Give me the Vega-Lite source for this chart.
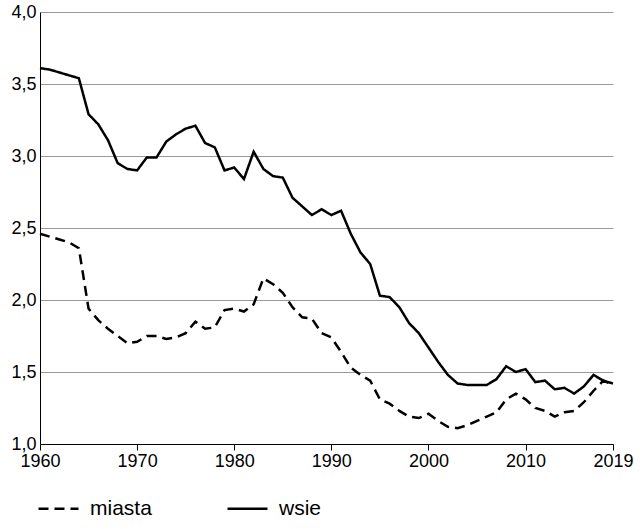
{
  "$schema": "https://vega.github.io/schema/vega-lite/v6.json",
  "width": 573,
  "height": 432,
  "autosize": {"type": "none"},
  "padding": {"left": 40, "top": 12, "right": 27, "bottom": 85},
  "background": "white",
  "config": {
    "view": {"stroke": null},
    "font": "Liberation Sans",
    "axis": {"labelFontSize": 18, "labelColor": "black", "domainColor": "black", "tickColor": "black", "titleFontSize": 0}
  },
  "data": {"values": [
    {"year":1960,"miasta":2.46,"wsie":3.61},{"year":1961,"miasta":2.44,"wsie":3.60},{"year":1962,"miasta":2.42,"wsie":3.58},{"year":1963,"miasta":2.40,"wsie":3.56},{"year":1964,"miasta":2.36,"wsie":3.54},
    {"year":1965,"miasta":1.94,"wsie":3.29},{"year":1966,"miasta":1.86,"wsie":3.22},{"year":1967,"miasta":1.80,"wsie":3.11},{"year":1968,"miasta":1.75,"wsie":2.95},{"year":1969,"miasta":1.70,"wsie":2.91},
    {"year":1970,"miasta":1.71,"wsie":2.90},{"year":1971,"miasta":1.75,"wsie":2.99},{"year":1972,"miasta":1.75,"wsie":2.99},{"year":1973,"miasta":1.73,"wsie":3.10},{"year":1974,"miasta":1.74,"wsie":3.15},
    {"year":1975,"miasta":1.77,"wsie":3.19},{"year":1976,"miasta":1.85,"wsie":3.21},{"year":1977,"miasta":1.80,"wsie":3.09},{"year":1978,"miasta":1.81,"wsie":3.06},{"year":1979,"miasta":1.93,"wsie":2.90},
    {"year":1980,"miasta":1.94,"wsie":2.92},{"year":1981,"miasta":1.92,"wsie":2.84},{"year":1982,"miasta":1.97,"wsie":3.03},{"year":1983,"miasta":2.15,"wsie":2.91},{"year":1984,"miasta":2.11,"wsie":2.86},
    {"year":1985,"miasta":2.05,"wsie":2.85},{"year":1986,"miasta":1.95,"wsie":2.71},{"year":1987,"miasta":1.88,"wsie":2.65},{"year":1988,"miasta":1.87,"wsie":2.59},{"year":1989,"miasta":1.77,"wsie":2.63},
    {"year":1990,"miasta":1.74,"wsie":2.59},{"year":1991,"miasta":1.64,"wsie":2.62},{"year":1992,"miasta":1.53,"wsie":2.46},{"year":1993,"miasta":1.48,"wsie":2.33},{"year":1994,"miasta":1.44,"wsie":2.25},
    {"year":1995,"miasta":1.31,"wsie":2.03},{"year":1996,"miasta":1.28,"wsie":2.02},{"year":1997,"miasta":1.23,"wsie":1.95},{"year":1998,"miasta":1.19,"wsie":1.84},{"year":1999,"miasta":1.18,"wsie":1.77},
    {"year":2000,"miasta":1.21,"wsie":1.67},{"year":2001,"miasta":1.16,"wsie":1.57},{"year":2002,"miasta":1.12,"wsie":1.48},{"year":2003,"miasta":1.11,"wsie":1.42},{"year":2004,"miasta":1.13,"wsie":1.41},
    {"year":2005,"miasta":1.16,"wsie":1.41},{"year":2006,"miasta":1.19,"wsie":1.41},{"year":2007,"miasta":1.22,"wsie":1.45},{"year":2008,"miasta":1.31,"wsie":1.54},{"year":2009,"miasta":1.35,"wsie":1.50},
    {"year":2010,"miasta":1.31,"wsie":1.52},{"year":2011,"miasta":1.25,"wsie":1.43},{"year":2012,"miasta":1.23,"wsie":1.44},{"year":2013,"miasta":1.19,"wsie":1.38},{"year":2014,"miasta":1.22,"wsie":1.39},
    {"year":2015,"miasta":1.23,"wsie":1.35},{"year":2016,"miasta":1.29,"wsie":1.40},{"year":2017,"miasta":1.37,"wsie":1.48},{"year":2018,"miasta":1.44,"wsie":1.44},{"year":2019,"miasta":1.41,"wsie":1.42}
  ]},
  "transform": [{"fold": ["miasta", "wsie"], "as": ["seria", "wartosc"]}],
  "mark": {"type": "line", "color": "black", "strokeWidth": 2.5},
  "encoding": {
    "x": {
      "field": "year", "type": "quantitative",
      "scale": {"domain": [1960, 2019], "nice": false, "zero": false},
      "axis": {"values": [1960, 1970, 1980, 1990, 2000, 2010, 2019], "format": "d", "grid": false, "title": null, "tickSize": 6, "labelOverlap": false, "labelFlush": false, "labelPadding": 2}
    },
    "y": {
      "field": "wartosc", "type": "quantitative",
      "scale": {"domain": [1, 4], "nice": false, "zero": false},
      "axis": {"values": [1, 1.5, 2, 2.5, 3, 3.5, 4], "labelExpr": "replace(format(datum.value, '.1f'), '.', ',')", "grid": true, "gridColor": "#999", "gridWidth": 1, "tickSize": 0, "title": null, "labelPadding": 4, "labelFlush": false}
    },
    "strokeDash": {
      "field": "seria", "type": "nominal",
      "scale": {"domain": ["miasta", "wsie"], "range": [[10, 6], [1, 0]]},
      "legend": {"orient": "none", "legendX": -3, "legendY": 475, "direction": "horizontal", "title": null, "labelFontSize": 21, "labelOffset": 10, "symbolStrokeWidth": 2.5, "symbolStrokeColor": "black", "symbolSize": 1600, "columnPadding": 70, "labelColor": "black", "symbolType": "stroke"}
    }
  }
}
